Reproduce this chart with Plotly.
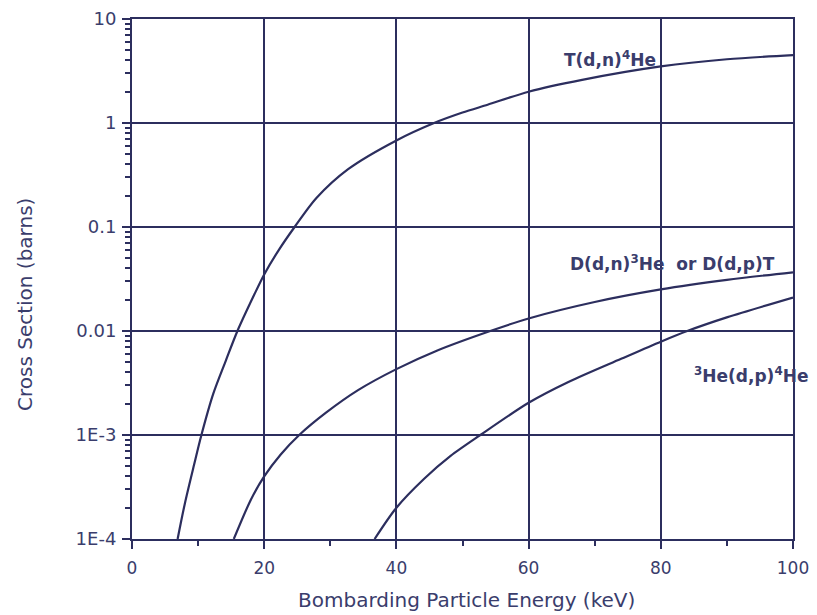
import plotly.graph_objects as go

# ---- data ----
dt_x = [6.9, 8.0, 9.4, 10.5, 12.3, 14.2, 15.95, 18.5, 20.0, 22.2, 24.6, 27.9, 32.7, 40.0, 45.7, 50.0, 53.8, 60.0, 68.1, 80.0, 90.0, 100.0]
dt_y = [1.0e-4, 2.2e-4, 5.2e-4, 1.0e-3, 2.5e-3, 5.2e-3, 0.010, 0.0224, 0.035, 0.060, 0.10, 0.19, 0.36, 0.68, 1.0, 1.26, 1.5, 2.0, 2.6, 3.5, 4.1, 4.5]

dd_x = [15.4, 18.0, 20.0, 22.5, 25.3, 29.3, 34.2, 40.0, 46.2, 54.2, 60.0, 70.0, 80.0, 90.0, 100.0]
dd_y = [1.0e-4, 2.4e-4, 4.0e-4, 6.5e-4, 1.0e-3, 1.63e-3, 2.7e-3, 4.3e-3, 6.5e-3, 0.010, 0.0132, 0.019, 0.0251, 0.031, 0.0367]

he_x = [36.7, 40.0, 44.2, 48.2, 52.7, 60.0, 66.1, 74.0, 80.0, 84.0, 90.1, 100.0]
he_y = [1.0e-4, 2.0e-4, 3.8e-4, 6.3e-4, 1.0e-3, 2.04e-3, 3.25e-3, 5.4e-3, 7.9e-3, 0.010, 0.0136, 0.021]

x_ticks = [0, 20, 40, 60, 80, 100]
x_ticklabels = ["0", "20", "40", "60", "80", "100"]
x_minor = [10, 30, 50, 70, 90]
y_ticks = [1e-4, 1e-3, 1e-2, 1e-1, 1, 10]
y_ticklabels = ["1E-4", "1E-3", "0.01", "0.1", "1", "10"]
y_minor = [m * 10.0 ** e for e in range(-4, 1) for m in range(2, 10)]

labels = ["T(d,n)<sup>4</sup>He",
          "D(d,n)<sup>3</sup>He  or D(d,p)T",
          "<sup>3</sup>He(d,p)<sup>4</sup>He"]

LINE = "#2c2e5e"
TEXT = "#3a3d6c"
FONT = "DejaVu Sans"

# the page body adds an 8px offset; figure pixels = page pixels - 8
OFF = 8
W, H = 817 - OFF, 615 - OFF
PLOT_L, PLOT_R, PLOT_T, PLOT_B = 132, 793, 19, 539   # page pixels
L, T = PLOT_L - OFF, PLOT_T - OFF
R = W - (PLOT_R - OFF)
B = H - (PLOT_B - OFF)
PW, PH = W - L - R, H - T - B


def px_to_paper(px, py):
    return (px - OFF - L) / PW, 1 - (py - OFF - T) / PH


fig = go.Figure()
for xs, ys in [(dt_x, dt_y), (dd_x, dd_y), (he_x, he_y)]:
    fig.add_trace(go.Scatter(x=xs, y=ys, mode="lines",
                             line=dict(color=LINE, width=2.2, shape="spline", smoothing=0.8),
                             showlegend=False, hoverinfo="skip"))

fig.update_layout(
    width=W, height=H,
    margin=dict(l=L, r=R, t=T, b=B, autoexpand=False),
    paper_bgcolor="white", plot_bgcolor="white",
    font=dict(family=FONT, color=TEXT, size=18),
    showlegend=False,
)

fig.update_xaxes(
    range=[0, 100], tickvals=x_ticks, ticktext=x_ticklabels, automargin=False,
    showgrid=True, gridcolor=LINE, gridwidth=1.6,
    showline=True, linecolor=LINE, linewidth=2, mirror=True,
    ticks="outside", ticklen=8, tickwidth=2, tickcolor=LINE,
    ticklabelstandoff=5, ticklabeloverflow="allow",
    minor=dict(tickvals=x_minor, ticks="outside", ticklen=5, tickwidth=2, tickcolor=LINE, showgrid=False),
    tickfont=dict(family=FONT, size=17, color=TEXT),
    zeroline=False,
)
fig.update_yaxes(
    type="log", range=[-4, 1], tickvals=y_ticks, ticktext=y_ticklabels, automargin=False,
    showgrid=True, gridcolor=LINE, gridwidth=1.6,
    showline=True, linecolor=LINE, linewidth=2, mirror=True,
    ticks="outside", ticklen=8, tickwidth=2, tickcolor=LINE,
    ticklabelstandoff=2, ticklabeloverflow="allow",
    minor=dict(tickvals=y_minor, ticks="outside", ticklen=5, tickwidth=2, tickcolor=LINE, showgrid=False),
    tickfont=dict(family=FONT, size=18, color=TEXT),
    zeroline=False,
)

# curve labels (page-pixel centres converted to paper coordinates)
label_px = [(610, 59), (672, 263), (751, 375)]
for txt, (px, py) in zip(labels, label_px):
    ax_, ay_ = px_to_paper(px, py)
    fig.add_annotation(text=txt, xref="paper", yref="paper", x=ax_, y=ay_,
                       showarrow=False, xanchor="center", yanchor="middle",
                       font=dict(family=FONT, size=17, color=TEXT, weight="bold"))

# axis titles
tx, ty = px_to_paper(466, 600)
fig.add_annotation(text="Bombarding Particle Energy (keV)", xref="paper", yref="paper",
                   x=tx, y=ty, showarrow=False, xanchor="center", yanchor="middle",
                   font=dict(family=FONT, size=20, color=TEXT))
tx, ty = px_to_paper(25, 305)
fig.add_annotation(text="Cross Section (barns)", xref="paper", yref="paper",
                   x=tx, y=ty, showarrow=False, textangle=-90,
                   xanchor="center", yanchor="middle",
                   font=dict(family=FONT, size=20, color=TEXT))

fig.write_html("out.html")
